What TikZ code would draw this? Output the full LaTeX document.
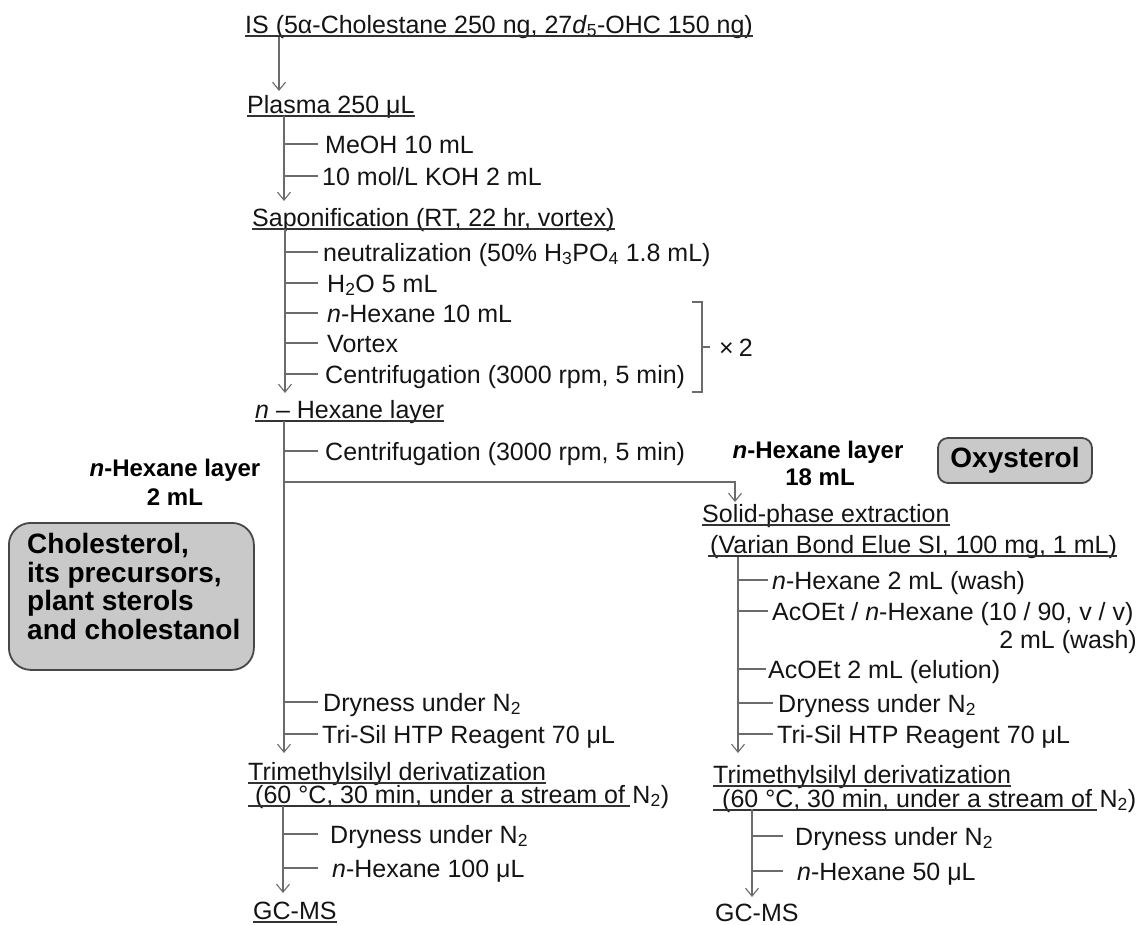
\documentclass[tikz,border=0pt]{standalone}
\usepackage{fontspec}
\setmainfont{Liberation Sans}
\usetikzlibrary{arrows.meta,calc}
\newcommand\brn[3]{% spine coordinate, node, end x
  \path (#2.base west) ++(0,-9) coordinate (tmpY);
  \path (#3,0) coordinate (tmpX);
  \draw[ln] (#1 |- tmpY) -- (tmpX |- tmpY);}
\newcommand\uln[2]{% node, extra shift
  \draw[ul] ([xshift=-#2pt,yshift=-3pt]#1.base west) -- ([yshift=-3pt]#1.base east);}
\begin{document}
\begin{tikzpicture}[x=1pt,y=-1pt,
  txt/.style={anchor=base west, inner sep=0pt, font=\fontsize{25}{30}\selectfont, text=black!92},
  lbl/.style={anchor=base, inner sep=0pt, font=\fontsize{24}{29}\selectfont\bfseries, text=black},
  ln/.style={draw=black!58, line width=1.2pt},
  arr/.style={ln, -{Straight Barb[length=8pt,width=13pt,line width=1.1pt]}},
  ul/.style={draw=black!80, line width=1.4pt},
  gbox/.style={draw=black!72, line width=1.8pt, fill=black!21, text=black}]
\useasboundingbox (0,0) rectangle (1145,924);

% ---- top
\node[txt] (is) at (245,33) {IS (5α-Cholestane 250 ng, 27\textit{d}\textsubscript{5}-OHC 150 ng)};
\uln{is}{0}
\node[txt] (plasma) at (247,113) {Plasma 250 μL};
\uln{plasma}{0}
\coordinate (a0t) at (279,37);
\coordinate (a0b) at (279,91);
\draw[arr] (a0t) -- (a0b);

% ---- spine 1
\node[txt] (meoh) at (325,153) {MeOH 10 mL};
\node[txt] (koh) at (322,185) {10 mol/L KOH 2 mL};
\coordinate (s1t) at (284,116);
\coordinate (s1b) at (284,201);
\draw[arr] (s1t) -- (s1b);
\brn{s1t}{meoh}{318}
\brn{s1t}{koh}{318}

\node[txt] (sapo) at (252,226) {Saponification (RT, 22 hr, vortex)};
\uln{sapo}{0}

% ---- spine 2
\node[txt] (neut) at (323,261) {neutralization (50\% H\textsubscript{3}PO\textsubscript{4} 1.8 mL)};
\node[txt] (h2o) at (327,292) {H\textsubscript{2}O 5 mL};
\node[txt] (hex1) at (327,322) {\textit{n}-Hexane 10 mL};
\node[txt] (vortex) at (327,352) {Vortex};
\node[txt] (cent1) at (325,383) {Centrifugation (3000 rpm, 5 min)};
\coordinate (s2t) at (285,229);
\coordinate (s2b) at (285,393);
\draw[arr] (s2t) -- (s2b);
\brn{s2t}{neut}{318}
\brn{s2t}{h2o}{318}
\brn{s2t}{hex1}{318}
\brn{s2t}{vortex}{318}
\brn{s2t}{cent1}{318}
% bracket x2
\draw[ln] (692,302) -- (702,302) -- (702,392) -- (692,392);
\draw[ln] (702,347) -- (710,347);
\node[txt] (x2) at (719,356) {×\hspace{5pt}2};

\node[txt] (hexL) at (255,418) {\textit{n} – Hexane layer};
\uln{hexL}{0}

% ---- spine 3 (left)
\node[txt] (cent2) at (325,460) {Centrifugation (3000 rpm, 5 min)};
\coordinate (s3t) at (284,421);
\coordinate (s3b) at (284,753);
\draw[arr] (s3t) -- (s3b);
\brn{s3t}{cent2}{318}
\coordinate (h1) at (284,482);
\coordinate (h2) at (735,502);
\draw[arr] (h1) -| (h2);

\node[txt] (l1) at (323,711) {Dryness under N\textsubscript{2}};
\node[txt] (l2) at (322,743) {Tri-Sil HTP Reagent 70 μL};
\brn{s3t}{l1}{318}
\brn{s3t}{l2}{318}

% labels
\node[lbl] (lblL1) at (175,476) {\textit{n}-Hexane layer};
\node[lbl] (lblL2) at (175,505) {2 mL};
\node[lbl] (lblR1) at (818,458) {\textit{n}-Hexane layer};
\node[lbl] (lblR2) at (820,485) {18 mL};

% boxes
\node[gbox, rounded corners=10pt, minimum width=154pt, minimum height=45pt, inner sep=0pt,
  font=\fontsize{28}{30}\selectfont\bfseries] (oxy) at (1015,460.5) {Oxysterol};
\node[gbox, rounded corners=22pt, anchor=north west, minimum width=245pt, minimum height=147pt,
  inner sep=0pt] (chol) at (8,522) {};
\node[anchor=north west, inner sep=0pt, align=left,
  font=\fontsize{28}{28.5}\selectfont\bfseries] (cholT) at (27,533)
  {Cholesterol,\\its precursors,\\plant sterols\\and cholestanol};

% ---- right column
\node[txt] (spe) at (702,522) {Solid-phase extraction};
\uln{spe}{0}
\node[txt] (varian) at (710,553) {(Varian Bond Elue SI, 100 mg, 1 mL)};
\uln{varian}{2}
\coordinate (srt) at (738,557);
\coordinate (srb) at (738,753);
\draw[arr] (srt) -- (srb);
\node[txt] (r1) at (772,589) {\textit{n}-Hexane 2 mL (wash)};
\node[txt] (r2) at (772,620) {AcOEt / \textit{n}-Hexane (10 / 90, v / v)};
\node[txt, anchor=base east] (r2b) at (1137,648) {2 mL (wash)};
\node[txt] (r3) at (768,678) {AcOEt 2 mL (elution)};
\node[txt] (r4) at (778,712) {Dryness under N\textsubscript{2}};
\node[txt] (r5) at (777,743) {Tri-Sil HTP Reagent 70 μL};
\brn{srt}{r1}{768}
\brn{srt}{r2}{768}
\brn{srt}{r3}{766}
\brn{srt}{r4}{773}
\brn{srt}{r5}{773}

% ---- bottom left
\node[txt] (tmsL) at (248,780) {Trimethylsilyl derivatization};
\uln{tmsL}{0}
\node[txt] (condL) at (255,803) {(60 °C, 30 min, under a stream of};
\node[txt] (n2L) at ([xshift=7pt]condL.base east) {N\textsubscript{2})};
\draw[ul] ([xshift=-7pt,yshift=-3pt]condL.base west) -- ([xshift=5pt,yshift=-3pt]condL.base east);
\coordinate (sLt) at (283,806);
\coordinate (sLb) at (283,893);
\draw[arr] (sLt) -- (sLb);
\node[txt] (l3) at (330,843) {Dryness under N\textsubscript{2}};
\node[txt] (l4) at (332,877) {\textit{n}-Hexane 100 μL};
\brn{sLt}{l3}{318}
\brn{sLt}{l4}{318}
\node[txt] (gcL) at (253,919) {GC-MS};
\uln{gcL}{0}

% ---- bottom right
\node[txt] (tmsR) at (713,783) {Trimethylsilyl derivatization};
\uln{tmsR}{0}
\node[txt] (condR) at (722,807) {(60 °C, 30 min, under a stream of};
\node[txt] (n2R) at ([xshift=7pt]condR.base east) {N\textsubscript{2})};
\draw[ul] ([xshift=-9pt,yshift=-3pt]condR.base west) -- ([xshift=5pt,yshift=-3pt]condR.base east);
\coordinate (sRt) at (752,809);
\coordinate (sRb) at (752,897);
\draw[arr] (sRt) -- (sRb);
\node[txt] (r6) at (795,845) {Dryness under N\textsubscript{2}};
\node[txt] (r7) at (797,880) {\textit{n}-Hexane 50 μL};
\brn{sRt}{r6}{783}
\brn{sRt}{r7}{783}
\node[txt] (gcR) at (715,921) {GC-MS};
\end{tikzpicture}
\end{document}
